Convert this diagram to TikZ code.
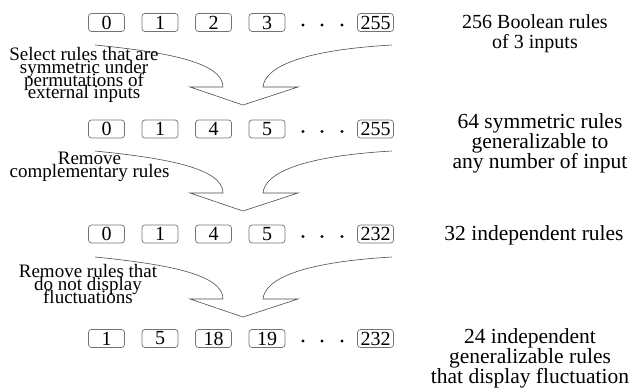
\documentclass[tikz,border=0pt]{standalone}
\usepackage{fontspec}
\setmainfont{Liberation Serif}
\newcommand\tightlines{\lineskiplimit=-100pt\relax\lineskip=0pt\relax}
\begin{document}
\begin{tikzpicture}[x=1pt,y=-1pt,
  rulebox/.style={draw=black!55, line width=0.7pt, rounded corners=3pt,
    minimum width=36pt, minimum height=18pt, inner sep=0pt,
    font=\fontsize{20}{20}\selectfont},
  dotmark/.style={circle, fill=black, inner sep=0pt, minimum size=3.2pt},
  lefttext/.style={align=center, inner sep=0pt,
    font=\fontsize{19}{12.9}\selectfont\tightlines},
  righttext/.style={align=center, inner sep=0pt,
    font=\fontsize{21.5}{20}\selectfont\tightlines},
  flow/.style={draw=black!70, line width=0.6pt, line join=miter},
  merge/.pic={
    \draw[flow] (95,0) .. controls (165,7) and (223,17) .. (223,42)
      -- (190,42) -- (243,60) -- (298,42) -- (263,42)
      .. controls (265,21) and (305,5) .. (392,0);
  }]
\useasboundingbox (0,0) rectangle (635,388);

% row 1
\foreach \lab [count=\i] in {0,1,2,3}
  \node[rulebox] (a\i) at ({106.5+53.5*(\i-1)},22.5) {\lab};
\node[rulebox] (a5) at (375.5,22.5) {255};
\foreach \x [count=\i] in {303,322,342}
  \node[dotmark] (ad\i) at (\x,25) {};

% row 2
\foreach \lab [count=\i] in {0,1,4,5}
  \node[rulebox] (b\i) at ({106.5+53.5*(\i-1)},129) {\lab};
\node[rulebox] (b5) at (375.5,129) {255};
\foreach \x [count=\i] in {303,322,342}
  \node[dotmark] (bd\i) at (\x,131.5) {};

% row 3
\foreach \lab [count=\i] in {0,1,4,5}
  \node[rulebox] (c\i) at ({106.5+53.5*(\i-1)},234) {\lab};
\node[rulebox] (c5) at (375.5,234) {232};
\foreach \x [count=\i] in {303,322,342}
  \node[dotmark] (cd\i) at (\x,236.5) {};

% row 4
\foreach \lab [count=\i] in {1,5,18,19}
  \node[rulebox] (d\i) at ({106.5+53.5*(\i-1)},338.5) {\lab};
\node[rulebox] (d5) at (375.5,338.5) {232};
\foreach \x [count=\i] in {303,322,342}
  \node[dotmark] (dd\i) at (\x,341) {};

% merging arrows
\pic at (0,45) {merge};
\pic at (0,151) {merge};
\pic at (0,257) {merge};

% left labels
\node[lefttext] (s1) at (84,75) {Select rules that are\\symmetric under\\permutations of\\external inputs};
\node[lefttext] (s2) at (89.5,167) {Remove\\complementary rules};
\node[lefttext] (s3) at (88,284) {Remove rules that\\do not display\\fluctuations};

% right labels
\node[righttext, font=\fontsize{20}{20}\selectfont\tightlines] (r1) at (535,33.5) {256 Boolean rules\\of 3 inputs};
\node[righttext] (r2) at (540,143.5) {64 symmetric rules\\generalizable to\\any number of input};
\node[righttext] (r3) at (534,235) {32 independent rules};
\node[righttext] (r4) at (530,358.5) {24 independent\\generalizable rules\\that display fluctuation};
\end{tikzpicture}
\end{document}
